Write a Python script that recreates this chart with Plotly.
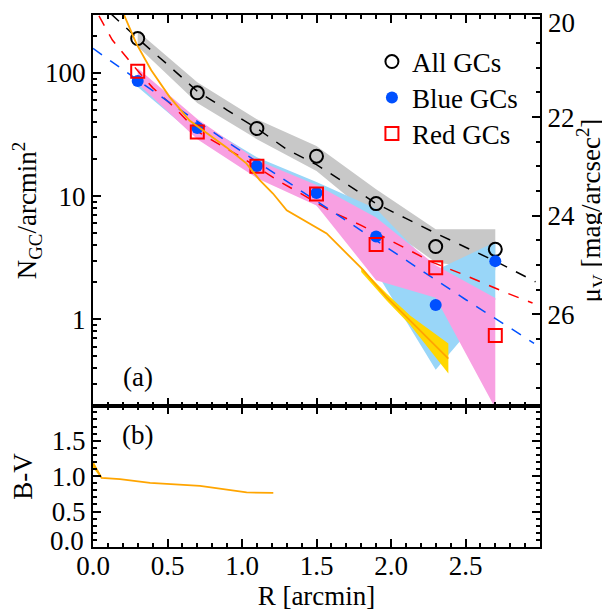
import plotly.graph_objects as go

# ---------------- data ----------------
r_pts = [0.3, 0.7, 1.1, 1.5, 1.9, 2.3, 2.7]
all_gc = [190, 69, 35.4, 21.1, 8.7, 3.9, 3.7]
blue_gc = [86, 35.8, 17.6, 10.6, 4.7, 1.31, 2.97]
red_gc = [103, 33.2, 17.5, 10.4, 4.06, 2.62, 0.74]

all_hi = [218, 84, 42, 25.5, 11.4, 5.4, 5.4]
all_lo = [164, 57, 29, 16, 6.4, 2.9, 2.5]
blue_hi = [94, 40.6, 20.7, 13.0, 7.9, 2.5, 4.24]
blue_lo = [77, 30.1, 15.7, 8.45, 2.42, 0.39, 1.44]
red_hi = [109, 42.3, 19.6, 12.3, 6.7, 2.75, 1.49]
red_lo = [82, 29.0, 14.0, 8.4, 2.08, 1.5, 0.19]

fit_all_r = [0.12, 0.3, 0.5, 0.7, 0.9, 1.1, 1.3, 1.5, 1.7, 1.9, 2.1, 2.3, 2.5, 2.7, 2.97]
fit_all = [302, 190, 117, 71, 50, 35.5, 24, 18, 12.6, 8.7, 6.6, 5.0, 3.85, 2.97, 2.02]

fit_red_r = [0.04, 0.13, 0.3, 0.4, 0.55, 0.7, 1.0, 1.25, 1.45, 1.6, 1.8, 2.08, 2.28, 2.49, 2.61, 2.78, 2.95]
fit_red = [290, 185, 104, 76, 52, 33.5, 20.5, 13.2, 9.6, 7.5, 5.8, 3.9, 2.9, 2.3, 2.0, 1.63, 1.36]

fit_blue_r = [0.0, 0.5, 1.0, 1.5, 2.0, 2.5, 2.96]
fit_blue = [158, 59, 22.9, 9.1, 3.63, 1.45, 0.64]

mu_r = [0.19, 0.291, 0.391, 0.514, 0.648, 0.738, 0.894, 1.029, 1.119, 1.208, 1.300,
        1.568, 1.813, 1.970, 2.127, 2.385]
mu_v = [19.8, 20.51, 21.05, 21.59, 22.07, 22.27, 22.61, 22.94, 23.28, 23.55, 23.89,
        24.36, 25.10, 25.65, 26.12, 26.90]
mu_err_r = [1.80, 1.97, 2.13, 2.385]
mu_err_lo = [25.06, 25.58, 26.03, 26.59]
mu_err_hi = [25.14, 25.72, 26.22, 27.20]

bv_r = [0.0, 0.058, 0.181, 0.383, 0.718, 0.942, 1.031, 1.21]
bv = [1.18, 0.976, 0.958, 0.906, 0.863, 0.793, 0.770, 0.765]
bv_err_r = [0.0, 0.058]
bv_err_lo = [1.12, 0.965]
bv_err_hi = [1.22, 0.99]

mu_ticks = [20, 22, 24, 26]
mu_labels = ["", "22", "24", "26"]          # "20" placed as an annotation
bv_ticks = [0, 0.5, 1.0, 1.5]
bv_labels = ["", "0.5", "1.0", "1.5"]        # "0.0" placed as an annotation
r_ticks = [0, 0.5, 1.0, 1.5, 2.0, 2.5]
r_labels = ["0.0", "0.5", "1.0", "1.5", "2.0", "2.5"]

# ---------------- styling ----------------
FONT = "Liberation Serif"
FS = 27
GRAY = "#C8C8C8"
LBLUE = "#99D6F8"
PINK = "#F8A0E2"
GOLD = "#FFD700"
ORANGE = "#FFA500"
BLUE = "#0050FF"
RED = "#FF0000"

fig = go.Figure()


def band(x, lo, hi, color, yaxis="y", xaxis="x"):
    return go.Scatter(x=list(x) + list(x)[::-1], y=list(hi) + list(lo)[::-1],
                      fill="toself", fillcolor=color, line=dict(width=0),
                      mode="lines", hoverinfo="skip", showlegend=False,
                      xaxis=xaxis, yaxis=yaxis)


fig.add_trace(band(r_pts, all_lo, all_hi, GRAY))
fig.add_trace(band(r_pts, blue_lo, blue_hi, LBLUE))
fig.add_trace(band(r_pts, red_lo, red_hi, PINK))

fig.add_trace(go.Scatter(x=fit_all_r, y=fit_all, mode="lines",
                         line=dict(color="black", width=1.5, dash="11px,10px"),
                         showlegend=False))
fig.add_trace(go.Scatter(x=fit_red_r, y=fit_red, mode="lines",
                         line=dict(color=RED, width=1.5, dash="11px,10px"),
                         showlegend=False))
fig.add_trace(go.Scatter(x=fit_blue_r, y=fit_blue, mode="lines",
                         line=dict(color=BLUE, width=1.5, dash="11px,10px"),
                         showlegend=False))

fig.add_trace(go.Scatter(x=r_pts, y=all_gc, mode="markers", name="All GCs",
                         legend="legend",
                         marker=dict(symbol="circle-open", size=13, color="black",
                                     line=dict(width=2, color="black"))))
fig.add_trace(go.Scatter(x=r_pts, y=blue_gc, mode="markers", name="Blue GCs",
                         legend="legend2",
                         marker=dict(symbol="circle", size=12, color=BLUE)))
fig.add_trace(go.Scatter(x=r_pts, y=red_gc, mode="markers", name="Red GCs",
                         legend="legend3",
                         marker=dict(symbol="square-open", size=13, color=RED,
                                     line=dict(width=2, color=RED))))

# surface brightness profile on the right-hand axis
fig.add_trace(band(mu_err_r, mu_err_lo, mu_err_hi, GOLD, yaxis="y3"))
fig.add_trace(go.Scatter(x=mu_r, y=mu_v, mode="lines", yaxis="y3",
                         line=dict(color=ORANGE, width=1.8), showlegend=False))

# panel b
fig.add_trace(band(bv_err_r, bv_err_lo, bv_err_hi, GOLD, yaxis="y2", xaxis="x2"))
fig.add_trace(go.Scatter(x=bv_r, y=bv, mode="lines", xaxis="x2", yaxis="y2",
                         line=dict(color=ORANGE, width=1.8), showlegend=False))

axis_common = dict(showline=True, linecolor="black", linewidth=2, ticks="inside",
                   tickcolor="black", tickwidth=1.5, ticklen=8, showgrid=False,
                   zeroline=False, automargin=False, ticklabeloverflow="allow",
                   tickfont=dict(family=FONT, size=FS, color="black"))
minor_common = dict(ticks="inside", ticklen=4, tickwidth=1.5, tickcolor="black")

split = 0.265
log_minor = [a * b for b in (0.1, 1, 10, 100) for a in range(2, 10)]
log_minor = [v for v in log_minor if 0.19 < v < 300]


def leg(y):
    return dict(x=0.624, y=y, xanchor="left", yanchor="middle",
                bgcolor="rgba(0,0,0,0)", font=dict(family=FONT, size=FS),
                itemsizing="trace")


fig.update_layout(
    template="none",
    width=602, height=608,
    margin=dict(l=85, r=70, t=7, b=69),
    paper_bgcolor="white", plot_bgcolor="white",
    font=dict(family=FONT, size=FS, color="black"),
    xaxis=dict(**axis_common, domain=[0, 1], anchor="y", range=[0, 3],
               mirror="ticks", showticklabels=False, tickvals=[0.5, 1.0, 1.5, 2.0, 2.5],
               minor=dict(**minor_common, dtick=0.1, tick0=0)),
    yaxis=dict(**axis_common, domain=[split, 1], anchor="x", type="log",
               range=[-0.703, 2.470], tickvals=[1, 10, 100], ticktext=["1", "10", "100"],
               minor=dict(**minor_common, tickvals=log_minor),
               title=dict(text="N<sub>GC</sub>/arcmin<sup>2</sup>", standoff=4,
                          font=dict(family=FONT, size=FS))),
    yaxis3=dict(**axis_common, overlaying="y", side="right", anchor="x",
                range=[27.86, 19.93], tickvals=mu_ticks, ticktext=mu_labels,
                minor=dict(**minor_common, dtick=0.5, tick0=20),
                title=dict(text="μ<sub>V</sub> [mag/arcsec<sup>2</sup>]", standoff=4,
                           font=dict(family=FONT, size=FS))),
    xaxis2=dict(**axis_common, domain=[0, 1], anchor="y2", range=[0, 3],
                mirror="ticks", tickvals=r_ticks, ticktext=r_labels,
                ticklabelstandoff=-6,
                minor=dict(**minor_common, dtick=0.1, tick0=0),
                title=dict(text="R [arcmin]", standoff=6, font=dict(family=FONT, size=FS))),
    yaxis2=dict(**axis_common, domain=[0, split], anchor="x2", range=[0, 1.99],
                mirror="ticks", tickvals=bv_ticks, ticktext=bv_labels,
                minor=dict(**minor_common, dtick=0.1, tick0=0),
                title=dict(text="B-V", standoff=24, font=dict(family=FONT, size=FS))),
    legend=leg(0.9117),
    legend2=leg(0.844),
    legend3=leg(0.7763),
    showlegend=True,
    annotations=[
        dict(text="(a)", x=0.1, y=0.3195, xref="paper", yref="paper",
             xanchor="center", yanchor="middle", showarrow=False,
             font=dict(family=FONT, size=FS)),
        dict(text="(b)", x=0.1, y=0.2105, xref="paper", yref="paper",
             xanchor="center", yanchor="middle", showarrow=False,
             font=dict(family=FONT, size=FS)),
        dict(text=str(mu_ticks[0]), x=1.013, y=0.985, xref="paper", yref="paper",
             xanchor="left", yanchor="middle", showarrow=False,
             font=dict(family=FONT, size=FS)),
        dict(text="%.1f" % bv_ticks[0], x=-0.016, y=0.011, xref="paper", yref="paper",
             xanchor="right", yanchor="middle", showarrow=False, height=26,
             font=dict(family=FONT, size=FS)),
    ],
)

fig.write_html("out.html")
